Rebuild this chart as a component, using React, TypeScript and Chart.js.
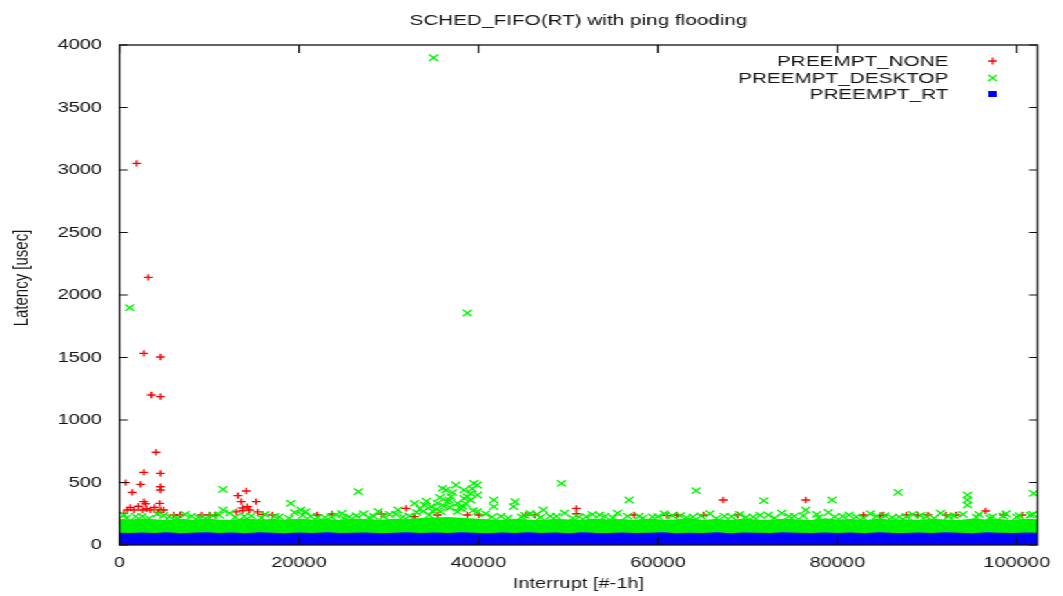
import React, { useEffect, useRef } from 'react';
import { Chart, registerables } from 'chart.js';

Chart.register(...registerables);

// ---- data ----
const chartTitle = 'SCHED_FIFO(RT) with ping flooding';
const xAxisTitle = 'Interrupt [#-1h]';
const yAxisTitle = 'Latency [usec]';
const seriesNames = ['PREEMPT_NONE', 'PREEMPT_DESKTOP', 'PREEMPT_RT'];
const seriesColors = ['#ff0000', '#00f500', '#0000ff'];

const xTicks = [0, 20000, 40000, 60000, 80000, 100000];
const yTicks = [0, 500, 1000, 1500, 2000, 2500, 3000, 3500, 4000];
const xRange = [0, 102300];
const yRange = [0, 4000];

// dense bands (upper envelope of the packed markers)
const bandX = [0, 1200, 2500, 3900, 5200, 6800, 8100, 9700, 11000, 12600, 14000, 15500, 17100, 18400, 20000, 21500, 23100, 24600, 26000, 27500, 29200, 30600, 32000, 33500, 35100, 36600, 38000, 39500, 41000, 42600, 44100, 45500, 47000, 48600, 50100, 51500, 53000, 54600, 56000, 57500, 59100, 60600, 62000, 63500, 65000, 66600, 68100, 69500, 71000, 72600, 74000, 75500, 77100, 78600, 80000, 81500, 83100, 84600, 86000, 87500, 89100, 90600, 92000, 93500, 95100, 96600, 98000, 99500, 101000, 102300];
const desktopBandTop = [200, 196, 204, 198, 192, 201, 195, 203, 197, 193, 205, 196, 200, 194, 202, 197, 199, 193, 204, 198, 195, 202, 199, 208, 212, 216, 210, 205, 198, 194, 202, 196, 192, 201, 197, 194, 203, 196, 200, 192, 202, 195, 198, 203, 194, 200, 193, 204, 197, 195, 201, 198, 193, 205, 196, 200, 192, 203, 195, 198, 194, 202, 197, 193, 204, 196, 200, 193, 201, 198];
const rtBandTop = [93, 90, 94, 91, 95, 89, 92, 96, 90, 93, 89, 95, 92, 88, 94, 91, 96, 90, 93, 94, 89, 92, 95, 91, 93, 90, 96, 92, 89, 94, 91, 95, 90, 93, 89, 96, 92, 90, 94, 91, 93, 95, 89, 92, 91, 95, 88, 94, 92, 90, 96, 93, 90, 94, 91, 93, 89, 95, 92, 91, 94, 90, 96, 92, 89, 95, 93, 91, 94, 92];

// PREEMPT_NONE scattered points
const noneX = [1900, 3190, 2700, 4550, 3550, 4550, 4070, 2700, 4550, 680, 2340, 4550, 4550, 1420, 14120, 13190, 4470, 2700, 13570, 13710, 15220, 14260, 870, 1600, 2530, 3440, 4550, 4910, 500, 6020, 6750, 9150, 10070, 10620, 13010, 13720, 14480, 15400, 15950, 17050, 1200, 2100, 3000, 3900, 4300, 2900, 22020, 23680, 29190, 31950, 32880, 35450, 38760, 40050, 45280, 46300, 50900, 50900, 67270, 57340, 61020, 62130, 65070, 68930, 76480, 82920, 84760, 85120, 87690, 88980, 90090, 92110, 93210, 96520, 98550, 100570];
const noneY = [3053, 2141, 1533, 1504, 1200, 1187, 742, 581, 573, 499, 485, 466, 440, 421, 432, 395, 333, 347, 347, 296, 347, 307, 280, 280, 280, 280, 280, 280, 253, 240, 240, 240, 240, 240, 265, 275, 280, 265, 245, 240, 300, 310, 290, 300, 260, 330, 240, 248, 248, 293, 227, 240, 240, 240, 240, 240, 293, 250, 360, 240, 235, 240, 240, 240, 360, 240, 235, 240, 240, 240, 240, 240, 240, 272, 240, 240];

// PREEMPT_DESKTOP scattered points
const desktopX = [1130, 35000, 38760, 11530, 19080, 11530, 20190, 500, 26620, 35990, 37470, 39500, 39880, 36370, 38390, 39120, 38760, 41710, 44090, 49250, 56790, 64260, 71800, 79410, 86770, 94500, 94500, 94500, 101870, 76480, 35450, 36550, 37660, 33980, 32880, 34710, 36920, 38400, 39130, 31040, 28830, 24780, 20740, 45750, 47230, 41710, 43920, 35820, 37660, 39870, 2500, 4200, 5600, 7300, 8800, 10400, 12300, 13900, 16200, 17800, 19500, 21300, 22900, 24100, 25600, 27200, 28300, 30100, 31600, 33100, 34500, 40800, 42500, 44800, 46500, 48000, 49600, 51200, 52700, 54100, 55500, 57900, 59400, 60700, 62500, 63900, 65800, 67400, 69100, 70600, 72300, 73800, 75200, 77700, 79000, 80600, 82100, 83700, 85300, 86900, 88400, 89900, 91500, 93000, 95800, 97300, 98800, 100300, 101800,
  800, 1800, 3300, 4900, 6400, 8000, 9600, 11100, 12900, 14700, 15800, 17300, 18900, 20400, 22100, 23600, 25000, 26400, 27800, 29400, 30800, 32300, 33800, 35300, 36800, 38100, 39400, 41500, 43300, 45200, 46900, 48700, 50500, 52000, 53500, 55000, 56600, 58300, 60000, 61600, 63200, 64800, 66500, 68200, 69800, 71400, 73000, 74600, 76200, 77900, 79700, 81300, 82900, 84400, 86100, 87700, 89300, 90800, 92400, 94000, 95500, 97000, 98500, 100000, 101500,
  33500, 34200, 35700, 36200, 37100, 37900, 38600, 39300, 39900, 34900, 36700, 38200];
const desktopY = [1898, 3898, 1856, 445, 333, 280, 280, 240, 427, 453, 480, 493, 480, 440, 440, 413, 387, 360, 347, 493, 360, 435, 355, 360, 421, 400, 360, 320, 413, 280, 333, 347, 333, 320, 333, 307, 387, 373, 360, 280, 267, 253, 267, 253, 280, 307, 307, 267, 267, 267, 230, 250, 225, 245, 220, 235, 255, 230, 245, 225, 260, 230, 220, 240, 225, 250, 230, 245, 225, 260, 240, 250, 230, 225, 245, 230, 255, 225, 245, 230, 255, 230, 225, 250, 235, 225, 250, 230, 245, 225, 240, 255, 230, 245, 260, 230, 225, 250, 235, 225, 245, 230, 255, 235, 245, 225, 250, 235, 245,
  215, 228, 212, 236, 218, 230, 214, 240, 222, 233, 217, 229, 213, 238, 220, 226, 215, 235, 219, 228, 246, 232, 270, 285, 300, 290, 275, 224, 216, 237, 221, 230, 214, 226, 240, 218, 231, 215, 227, 236, 219, 233, 213, 228, 222, 238, 216, 229, 234, 218, 226, 240, 215, 231, 220, 227, 236, 214, 230, 245, 222, 217, 233, 225, 239,
  290, 350, 380, 310, 420, 300, 330, 450, 400, 270, 360, 310];

// ---- layout (canvas is drawn narrow, then stretched horizontally like the reference) ----
const CANVAS_W = 770;
const CANVAS_H = 596;
const STRETCH = 1063 / CANVAS_W;
const FONT = '"Liberation Sans", Arial, Helvetica, sans-serif';
const TEXT_COLOR = '#151515';

const pair = (xs: number[], ys: number[]) => xs.map((x, i) => ({ x, y: ys[i] }));

const chromePlugin = {
  id: 'gnuplotChrome',
  afterDraw(chart: any) {
    const { ctx, chartArea: a, scales } = chart;
    ctx.save();
    // frame
    ctx.strokeStyle = '#111';
    ctx.lineWidth = 1.3;
    ctx.strokeRect(a.left, a.top, a.right - a.left, a.bottom - a.top);
    // inward mirrored ticks
    ctx.lineWidth = 1.2;
    ctx.beginPath();
    for (const v of yTicks) {
      const y = scales.y.getPixelForValue(v);
      ctx.moveTo(a.left, y); ctx.lineTo(a.left + 6, y);
      ctx.moveTo(a.right, y); ctx.lineTo(a.right - 6, y);
    }
    for (const v of xTicks) {
      const x = scales.x.getPixelForValue(v);
      ctx.moveTo(x, a.bottom); ctx.lineTo(x, a.bottom - 8);
      ctx.moveTo(x, a.top); ctx.lineTo(x, a.top + 8);
    }
    ctx.stroke();

    // title
    ctx.fillStyle = TEXT_COLOR;
    ctx.font = `15px ${FONT}`;
    ctx.textAlign = 'center';
    ctx.textBaseline = 'alphabetic';
    ctx.fillText(chartTitle, (a.left + a.right) / 2, 25);

    // y axis title
    ctx.save();
    ctx.translate(16, 278);
    ctx.rotate(-Math.PI / 2);
    ctx.textBaseline = 'middle';
    ctx.fillText(yAxisTitle, 0, 0);
    ctx.restore();

    // legend (gnuplot style: right-aligned text, sample to the right)
    const rows = [61, 78, 94];
    ctx.textAlign = 'right';
    ctx.textBaseline = 'middle';
    ctx.font = `15px ${FONT}`;
    const textRight = 687;
    const markX = 719;
    seriesNames.forEach((name, i) => {
      const y = rows[i];
      ctx.fillStyle = TEXT_COLOR;
      ctx.fillText(name, textRight, y + 1);
      ctx.strokeStyle = seriesColors[i];
      ctx.fillStyle = seriesColors[i];
      ctx.lineWidth = 1.3;
      ctx.beginPath();
      if (i === 0) {
        ctx.moveTo(markX - 3, y); ctx.lineTo(markX + 3, y);
        ctx.moveTo(markX, y - 3.5); ctx.lineTo(markX, y + 3.5);
        ctx.stroke();
      } else if (i === 1) {
        ctx.moveTo(markX - 3, y - 3); ctx.lineTo(markX + 3, y + 3);
        ctx.moveTo(markX - 3, y + 3); ctx.lineTo(markX + 3, y - 3);
        ctx.stroke();
      } else {
        ctx.fillRect(markX - 3, y - 3, 6, 6);
      }
    });
    ctx.restore();
  },
};

export default function App() {
  const canvasRef = useRef<HTMLCanvasElement | null>(null);

  useEffect(() => {
    const canvas = canvasRef.current;
    if (!canvas) return;
    const chart = new Chart(canvas, {
      type: 'scatter',
      data: {
        datasets: [
          {
            label: seriesNames[0],
            data: pair(noneX, noneY),
            pointStyle: 'cross',
            pointRadius: 3.2,
            pointBorderWidth: 1.3,
            borderColor: seriesColors[0],
            backgroundColor: seriesColors[0],
            order: 5,
          },
          {
            type: 'line',
            label: seriesNames[1] + ' band',
            data: pair(bandX, desktopBandTop),
            showLine: true,
            fill: 'origin',
            tension: 0,
            borderWidth: 2,
            pointRadius: 0,
            borderColor: seriesColors[1],
            backgroundColor: seriesColors[1],
            order: 4,
          } as any,
          {
            label: seriesNames[1],
            data: pair(desktopX, desktopY),
            pointStyle: 'crossRot',
            pointRadius: 4.5,
            pointBorderWidth: 1.3,
            borderColor: seriesColors[1],
            backgroundColor: seriesColors[1],
            order: 3,
          },
          {
            type: 'line',
            label: seriesNames[2] + ' band',
            data: pair(bandX, rtBandTop),
            showLine: true,
            fill: 'origin',
            tension: 0,
            borderWidth: 1.5,
            pointRadius: 0,
            borderColor: seriesColors[2],
            backgroundColor: seriesColors[2],
            order: 2,
          } as any,
        ],
      },
      options: {
        animation: false,
        responsive: false,
        devicePixelRatio: 1,
        events: [],
        layout: { padding: { top: 45, right: CANVAS_W - 758, bottom: 0, left: 0 } },
        plugins: {
          legend: { display: false },
          title: { display: false },
          tooltip: { enabled: false },
        },
        scales: {
          x: {
            type: 'linear',
            min: xRange[0],
            max: xRange[1],
            grid: { display: false, drawTicks: false },
            border: { display: false },
            afterFit: (scale: any) => { scale.height = 51; },
            afterBuildTicks: (scale: any) => { scale.ticks = xTicks.map((v) => ({ value: v })); },
            ticks: {
              padding: 9,
              color: TEXT_COLOR,
              font: { family: FONT, size: 14.5 },
              callback: (v: any) => String(v),
              maxRotation: 0,
              autoSkip: false,
            },
            title: {
              display: true,
              text: xAxisTitle,
              color: TEXT_COLOR,
              font: { family: FONT, size: 14.5 },
              padding: { top: 0, bottom: 3 },
            },
          },
          y: {
            type: 'linear',
            min: yRange[0],
            max: yRange[1],
            grid: { display: false, drawTicks: false },
            border: { display: false },
            afterFit: (scale: any) => { scale.width = 86.6; },
            afterBuildTicks: (scale: any) => { scale.ticks = yTicks.map((v) => ({ value: v })); },
            ticks: {
              padding: 12.7,
              color: TEXT_COLOR,
              font: { family: FONT, size: 14.5 },
              callback: (v: any) => String(v),
              autoSkip: false,
            },
          },
        },
      },
      plugins: [chromePlugin],
    });
    return () => chart.destroy();
  }, []);

  return (
    <div
      style={{
        position: 'fixed',
        left: 0,
        top: 0,
        width: CANVAS_W,
        height: CANVAS_H,
        transform: `scaleX(${STRETCH})`,
        transformOrigin: '0 0',
        background: '#fff',
      }}
    >
      <canvas ref={canvasRef} width={CANVAS_W} height={CANVAS_H} style={{ display: 'block' }} />
    </div>
  );
}
